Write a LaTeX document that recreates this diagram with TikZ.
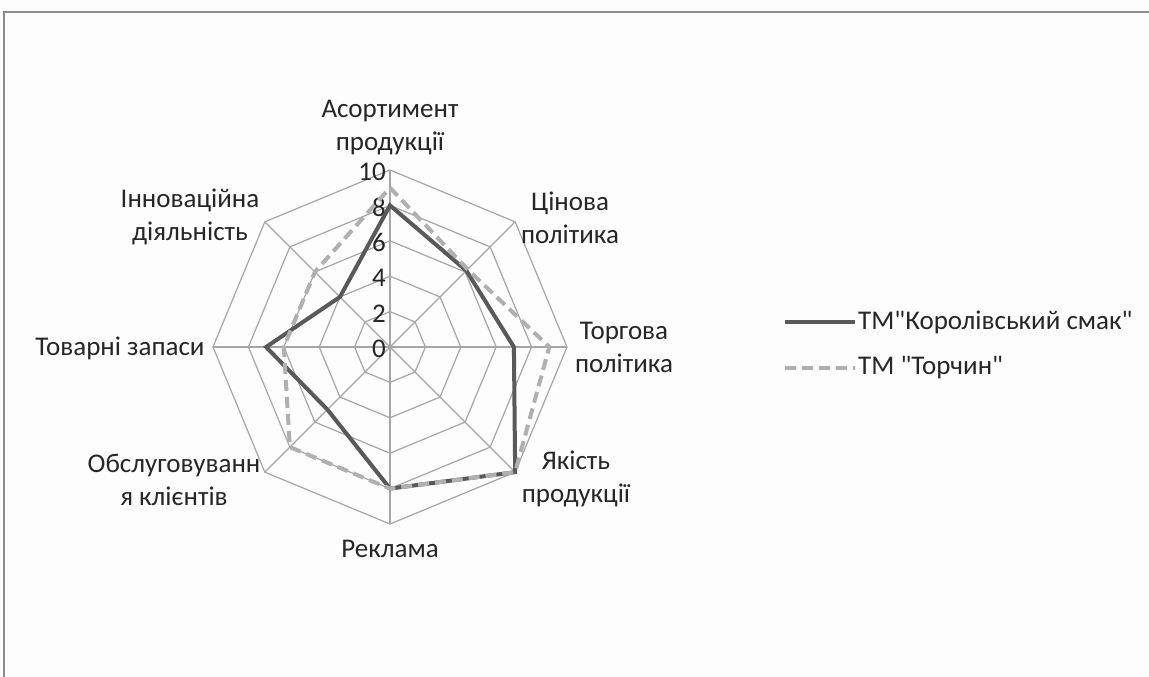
\documentclass[tikz,border=0pt]{standalone}
\usepackage{fontspec}
\setmainfont{Carlito}
\newcommand\dq{\XeTeXglyph\XeTeXcharglyph"22\relax}
\definecolor{gridc}{HTML}{A6A6A6}
\definecolor{darkser}{HTML}{595959}
\definecolor{lightser}{HTML}{B0B0B0}
\definecolor{framec}{HTML}{8C8C8C}
\definecolor{bgc}{HTML}{FDFDFD}
\tikzset{
  gridline/.style={draw=gridc, line width=1.2pt},
  serA/.style={draw=darkser, line width=4pt, line join=miter},
  serB/.style={draw=lightser, line width=4pt, dash pattern=on 11pt off 6pt, line join=miter},
  lbl/.style={font=\fontsize{27}{33}\selectfont, text=black!85, align=center, inner sep=0pt},
  tick/.style={font=\fontsize{27}{30}\selectfont, text=black!85, anchor=east, inner sep=0pt},
}
\begin{document}
\begin{tikzpicture}[x=1pt,y=-1pt]
\fill[bgc] (0,0) rectangle (1149,677);
\useasboundingbox (0,0) rectangle (1149,677);
% frame
\draw[framec, line width=1.5pt] (4,677) -- (4,12) -- (1149,12);
% grid
\foreach \r in {2,4,6,8,10}{
  \draw[gridline] plot[samples at={0,45,...,315}] ({390+17.7*\r*sin(\x)},{347-17.7*\r*cos(\x)}) -- cycle;
}
\foreach \a in {0,45,...,315}{
  \draw[gridline] (390,347) -- ({390+177*sin(\a)},{347-177*cos(\a)});
}
% tick labels
\foreach \v in {0,2,4,6,8,10}{
  \node[tick] (t\v) at (386,{349-17.7*\v}) {\v};
}
% series coordinates
\foreach \i/\v in {0/8,1/6.1,2/7,3/10,4/8,5/5,6/7,7/4}{
  \coordinate (a\i) at ({390+17.7*\v*sin(45*\i)},{347-17.7*\v*cos(45*\i)});
}
\foreach \i/\v in {0/9,1/6.2,2/9,3/10,4/8,5/8,6/6,7/6}{
  \coordinate (b\i) at ({390+17.7*\v*sin(45*\i)},{347-17.7*\v*cos(45*\i)});
}
\draw[serA] (a0) -- (a1) -- (a2) -- (a3) -- (a4) -- (a5) -- (a6) -- (a7) -- cycle;
\draw[serB] (b0) -- (b1) -- (b2) -- (b3) -- (b4) -- (b5) -- (b6) -- (b7) -- cycle;
% axis labels
\node[lbl] (l0) at (390,128) {Асортимент\\продукції};
\node[lbl] (l1) at (570,218) {Цінова\\політика};
\node[lbl] (l2) at (624,347) {Торгова\\політика};
\node[lbl] (l3) at (576,479) {Якість\\продукції};
\node[lbl] (l4) at (390,549) {Реклама};
\node[lbl] (l5) at (174,480) {Обслуговуванн\\я клієнтів};
\node[lbl] (l6) at (120,348) {Товарні запаси};
\node[lbl] (l7) at (190,217) {Інноваційна\\діяльність};
% legend
\coordinate (ka) at (785,322);
\coordinate (kb) at (855,322);
\coordinate (ta) at (785,368);
\coordinate (tb) at (855,368);
\draw[draw=darkser, line width=4pt] (ka) -- (kb);
\draw[draw=lightser, line width=4pt, dash pattern=on 11pt off 6pt] (ta) -- (tb);
\node[lbl, anchor=west] (k) at (858,322) {ТМ\dq Королівський смак\dq};
\node[lbl, anchor=west] (t) at (858,368) {ТМ \dq Торчин\dq};
\end{tikzpicture}
\end{document}
